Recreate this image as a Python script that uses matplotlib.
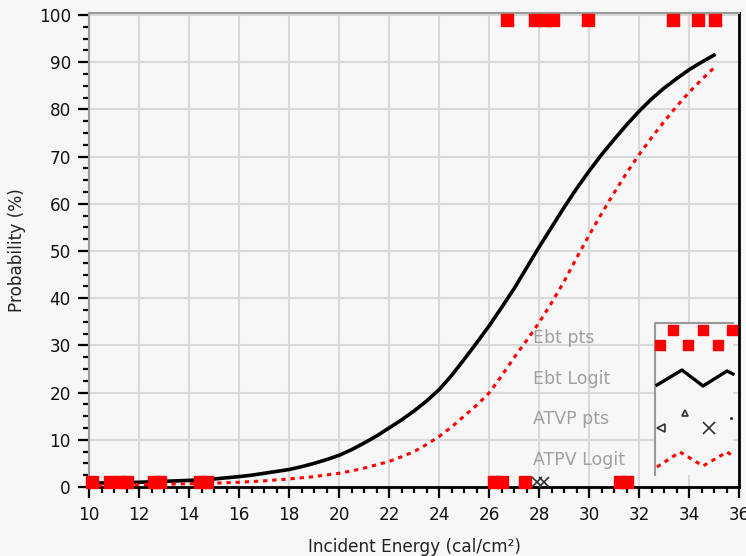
import matplotlib
matplotlib.use("Agg")
import matplotlib.pyplot as plt
from matplotlib.ticker import MultipleLocator
from matplotlib.patches import Rectangle

plt.rcParams['font.family'] = ['DejaVu Sans']

# ---- data ----
ebt_energy = [10, 11, 12, 13, 14, 15, 16, 16.5, 17, 17.5, 18, 18.5, 19, 19.5,
              20, 20.5, 21, 21.5, 22, 22.5, 23, 23.5, 24, 24.5, 25, 25.5, 26,
              26.5, 27, 27.5, 28, 28.5, 29, 29.5, 30, 30.5, 31, 31.5, 32, 32.5,
              33, 33.5, 34, 34.5, 35]
ebt_logit = [0.8, 0.9, 1.0, 1.2, 1.4, 1.7, 2.2, 2.5, 2.9, 3.3, 3.7, 4.3, 5.0,
             5.8, 6.7, 7.9, 9.3, 10.8, 12.5, 14.2, 16.1, 18.2, 20.6, 23.6, 27.0,
             30.5, 34.1, 38.0, 42.0, 46.4, 50.8, 55.0, 59.2, 63.2, 66.9, 70.4,
             73.6, 76.7, 79.6, 82.2, 84.5, 86.5, 88.4, 90.0, 91.5]

atpv_energy = [10, 11, 12, 13, 14, 15, 16, 17, 18, 19, 19.5, 20, 20.5, 21,
               21.5, 22, 22.5, 23, 23.5, 24, 24.5, 25, 25.5, 26, 26.5, 27, 27.5,
               28, 28.5, 29, 29.5, 30, 30.5, 31, 31.5, 32, 32.5, 33, 33.5, 34,
               34.5, 35]
atpv_logit = [0.3, 0.4, 0.5, 0.6, 0.7, 0.8, 1.0, 1.3, 1.7, 2.2, 2.55, 2.9, 3.4,
              4.0, 4.7, 5.4, 6.4, 7.5, 9.0, 10.7, 12.7, 15.0, 17.3, 19.9, 23.5,
              27.4, 31.0, 34.8, 39.0, 43.5, 48.5, 53.3, 57.9, 62.3, 66.5, 70.4,
              74.0, 77.4, 80.6, 83.6, 86.3, 88.8]

ebt_pts_x_low = [10.1, 10.85, 11.25, 11.5, 12.6, 12.85, 14.45, 14.7,
                 26.2, 26.5, 27.45, 31.23, 31.5]
ebt_pts_y_low = [1] * len(ebt_pts_x_low)
ebt_pts_x_high = [26.73, 27.82, 28.22, 28.54, 29.94, 33.36, 34.36, 35.04]
ebt_pts_y_high = [99] * len(ebt_pts_x_high)
atvp_pts_x = [27.9, 28.2]
atvp_pts_y = [1, 1]

x_ticks = list(range(10, 37, 2))
y_ticks = list(range(0, 101, 10))
legend_labels = ["Ebt pts", "Ebt Logit", "ATVP pts", "ATPV Logit"]

# ---- figure ----
W, H = 746, 556
BG = '#f7f7f7'
fig = plt.figure(figsize=(W / 100, H / 100), dpi=100, facecolor=BG)
L, R, T, B = 89, 739, 13, 487
ax = fig.add_axes([L / W, 1 - B / H, (R - L) / W, (B - T) / H])
ax.set_facecolor(BG)

ax.set_xlim(10, 36)
ax.set_ylim(0, 100 * (B - T) / (B - 15))

ax.set_xticks(x_ticks)
ax.set_yticks(y_ticks)
ax.xaxis.set_minor_locator(MultipleLocator(0.5))
ax.yaxis.set_minor_locator(MultipleLocator(2.5))
ax.grid(True, which='major', color='#d9d9d9', linewidth=1.5, zorder=0)
ax.set_axisbelow(True)

FS = 12.2
ax.tick_params(axis='both', which='major', direction='out', length=8, width=1.6,
               labelsize=FS, color='black', labelcolor='#111111')
ax.tick_params(axis='both', which='minor', direction='out', length=4, width=1.6,
               color='black')
ax.tick_params(axis='x', pad=6)
ax.tick_params(axis='y', pad=5)

for s in ('left', 'top'):
    ax.spines[s].set_color('#9a9a9a')
    ax.spines[s].set_linewidth(1.5)
ax.spines['right'].set_color('black')
ax.spines['right'].set_linewidth(2)
ax.spines['bottom'].set_color('black')
ax.spines['bottom'].set_linewidth(2)

ax.set_xlabel("Incident Energy (cal/cm²)", fontsize=FS, color='#222222', labelpad=10)
ax.set_ylabel("Probability (%)", fontsize=FS, color='#222222', labelpad=9)

# curves
ax.plot(ebt_energy, ebt_logit, color='black', linewidth=2.6, zorder=3)
ax.plot(atpv_energy, atpv_logit, color='#ff0000', linewidth=2.2,
        linestyle=(0, (1.4, 1.6)), zorder=3)

# points
for xs, ys in ((ebt_pts_x_low, ebt_pts_y_low), (ebt_pts_x_high, ebt_pts_y_high)):
    ax.plot(xs, ys, linestyle='none', marker='s', markersize=8,
            markerfacecolor='#ff0000', markeredgecolor='#ff0000',
            zorder=4, clip_on=False)
ax.plot(atvp_pts_x, atvp_pts_y, linestyle='none', marker='x', markersize=7,
        markeredgecolor='#333333', markeredgewidth=1.2, zorder=5)

# ---- custom legend (decoration) ----
def a(px, py):
    return ((px - L) / (R - L), (B - py) / (B - T))

tr = ax.transAxes
x0, y0 = a(655, 475)
x1, y1 = a(733, 323)
ax.add_patch(Rectangle((x0, y0), x1 - x0, y1 - y0, transform=tr,
                       facecolor=BG, edgecolor='none', zorder=6))
ax.plot([x0, x0, x1], [y0, y1, y1], transform=tr, color='#9a9a9a',
        linewidth=1.5, zorder=7)

label_py = [338, 379, 419, 460]
for lab, py in zip(legend_labels, label_py):
    tx, ty = a(533, py)
    ax.text(tx, ty, lab, transform=tr, fontsize=12.5, color='#a0a0a0',
            ha='left', va='center', zorder=7)

sq = [a(673, 330), a(703, 330), a(732, 330), a(660, 345), a(688, 345), a(718, 345)]
ax.plot([p[0] for p in sq], [p[1] for p in sq], transform=tr, linestyle='none',
        marker='s', markersize=7, color='#ff0000', zorder=8)
zz = [a(657, 385), a(682, 370), a(703, 386), a(727, 371), a(733, 374)]
ax.plot([p[0] for p in zz], [p[1] for p in zz], transform=tr, color='black',
        linewidth=2.4, zorder=8)
for (px, py, m, ms) in [(661, 428, '<', 6), (685, 413, '^', 5),
                        (709, 428, 'x', 8), (731, 418, '.', 2)]:
    mx, my = a(px, py)
    ax.plot([mx], [my], transform=tr, marker=m, markersize=ms,
            markerfacecolor='none', markeredgecolor='#333333',
            markeredgewidth=1.2, linestyle='none', zorder=8)
zr = [a(657, 467), a(680, 452), a(703, 466), a(727, 452), a(733, 456)]
ax.plot([p[0] for p in zr], [p[1] for p in zr], transform=tr, color='#ff0000',
        linewidth=2.2, linestyle=(0, (1.4, 1.6)), zorder=8)

fig.savefig("out.png", dpi=100, facecolor=fig.get_facecolor())
